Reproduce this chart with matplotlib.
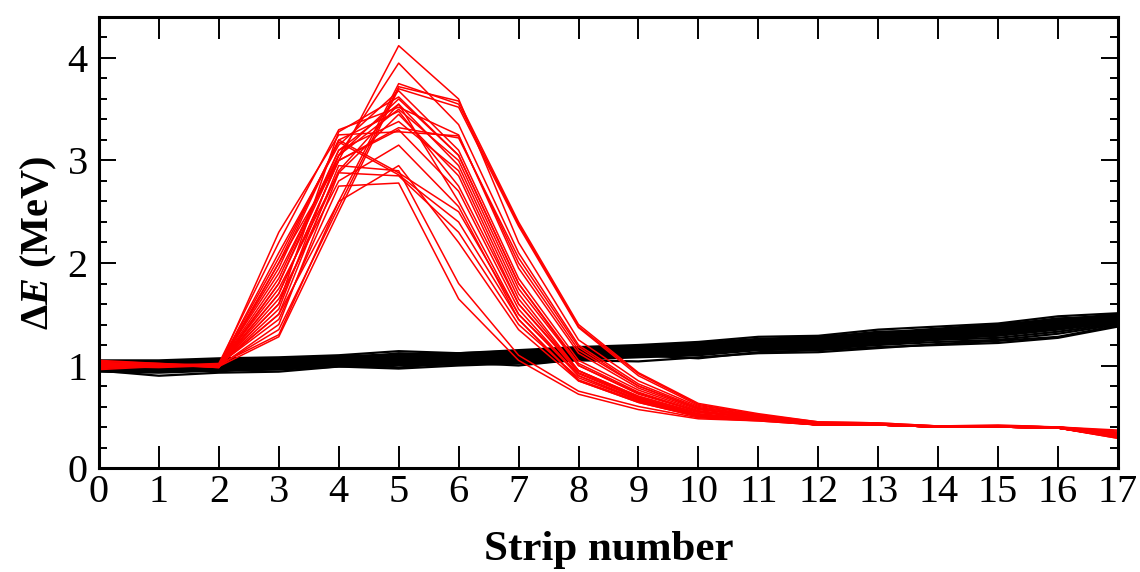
import numpy as np
import matplotlib
matplotlib.use("Agg")
import matplotlib.pyplot as plt
from matplotlib.ticker import MultipleLocator

plt.rcParams['font.family'] = ['Liberation Serif', 'DejaVu Serif']
plt.rcParams['mathtext.fontset'] = 'custom'
plt.rcParams['mathtext.rm'] = 'Liberation Serif:bold'
plt.rcParams['mathtext.it'] = 'Liberation Serif:italic:bold'
plt.rcParams['mathtext.bf'] = 'Liberation Serif:bold'

strips = list(range(18))

# energy loss per strip, light-particle tracks
black_tracks = [
    [1.05, 1.05, 1.07, 1.08, 1.10, 1.14, 1.12, 1.15, 1.18, 1.20, 1.23, 1.28, 1.29, 1.35, 1.38, 1.41, 1.48, 1.51],
    [1.03, 1.04, 1.06, 1.07, 1.09, 1.11, 1.12, 1.14, 1.17, 1.19, 1.22, 1.26, 1.28, 1.32, 1.36, 1.40, 1.45, 1.50],
    [1.02, 1.03, 1.05, 1.06, 1.08, 1.10, 1.11, 1.13, 1.16, 1.18, 1.21, 1.25, 1.27, 1.31, 1.35, 1.38, 1.44, 1.49],
    [1.01, 1.02, 1.04, 1.05, 1.08, 1.09, 1.10, 1.12, 1.15, 1.17, 1.20, 1.24, 1.26, 1.30, 1.34, 1.37, 1.43, 1.48],
    [1.00, 1.01, 1.03, 1.04, 1.07, 1.08, 1.09, 1.11, 1.14, 1.16, 1.19, 1.23, 1.25, 1.29, 1.33, 1.36, 1.42, 1.47],
    [0.99, 1.00, 1.02, 1.04, 1.06, 1.08, 1.09, 1.10, 1.13, 1.15, 1.18, 1.22, 1.24, 1.28, 1.32, 1.35, 1.41, 1.46],
    [0.99, 0.99, 1.01, 1.03, 1.05, 1.07, 1.08, 1.10, 1.13, 1.15, 1.17, 1.22, 1.23, 1.27, 1.31, 1.34, 1.40, 1.46],
    [0.98, 0.99, 1.00, 1.02, 1.05, 1.06, 1.07, 1.09, 1.12, 1.14, 1.16, 1.21, 1.22, 1.26, 1.30, 1.33, 1.39, 1.45],
    [0.97, 0.98, 1.00, 1.01, 1.04, 1.05, 1.06, 1.08, 1.11, 1.13, 1.15, 1.20, 1.21, 1.25, 1.29, 1.32, 1.38, 1.44],
    [0.97, 0.97, 0.99, 1.00, 1.03, 1.04, 1.05, 1.07, 1.10, 1.12, 1.14, 1.19, 1.20, 1.24, 1.28, 1.31, 1.37, 1.43],
    [0.96, 0.96, 0.98, 0.99, 1.02, 1.03, 1.04, 1.06, 1.09, 1.11, 1.13, 1.18, 1.19, 1.23, 1.27, 1.30, 1.36, 1.42],
    [0.95, 0.95, 0.97, 0.98, 1.01, 1.02, 1.03, 1.05, 1.08, 1.10, 1.12, 1.17, 1.18, 1.22, 1.26, 1.29, 1.35, 1.42],
    [0.95, 0.94, 0.96, 0.97, 1.00, 1.01, 1.02, 1.04, 1.07, 1.09, 1.11, 1.16, 1.17, 1.21, 1.25, 1.27, 1.33, 1.41],
    [0.94, 0.93, 0.95, 0.96, 0.99, 1.00, 1.01, 1.03, 1.06, 1.08, 1.10, 1.15, 1.16, 1.20, 1.23, 1.25, 1.31, 1.40],
    [0.95, 0.90, 0.93, 0.94, 0.99, 0.97, 1.00, 1.02, 1.05, 1.04, 1.08, 1.12, 1.13, 1.17, 1.21, 1.24, 1.28, 1.39],
    [1.00, 0.97, 0.94, 1.00, 1.03, 0.98, 1.03, 1.00, 1.06, 1.10, 1.07, 1.13, 1.15, 1.18, 1.20, 1.22, 1.27, 1.38],
    [1.02, 1.00, 1.04, 1.05, 1.06, 1.12, 1.10, 1.13, 1.15, 1.18, 1.21, 1.24, 1.27, 1.33, 1.34, 1.39, 1.46, 1.48],
]

# energy loss per strip, stopping heavy-ion tracks
red_tracks = [
    [1.02, 1.00, 1.00, 1.35, 2.55, 3.72, 3.58, 2.40, 1.40, 0.93, 0.63, 0.53, 0.45, 0.44, 0.41, 0.42, 0.40, 0.36],
    [1.00, 0.99, 1.01, 1.30, 2.60, 3.75, 3.55, 2.38, 1.38, 0.92, 0.62, 0.52, 0.45, 0.44, 0.41, 0.41, 0.40, 0.37],
    [0.98, 1.00, 0.99, 1.28, 2.50, 3.70, 3.52, 2.36, 1.37, 0.90, 0.61, 0.52, 0.44, 0.43, 0.41, 0.41, 0.40, 0.35],
    [1.05, 1.02, 1.00, 1.70, 3.00, 4.12, 3.60, 2.20, 1.25, 0.85, 0.60, 0.51, 0.44, 0.43, 0.41, 0.41, 0.40, 0.34],
    [0.97, 1.01, 0.98, 1.80, 3.05, 3.95, 3.35, 2.10, 1.20, 0.82, 0.59, 0.51, 0.44, 0.43, 0.40, 0.41, 0.40, 0.33],
    [1.00, 1.00, 1.02, 2.20, 3.30, 3.52, 3.25, 1.95, 1.12, 0.78, 0.57, 0.50, 0.43, 0.43, 0.40, 0.41, 0.39, 0.33],
    [1.03, 1.01, 0.99, 2.30, 3.25, 3.28, 3.24, 2.00, 1.15, 0.80, 0.58, 0.50, 0.43, 0.43, 0.40, 0.41, 0.40, 0.34],
    [0.99, 0.98, 1.00, 2.10, 3.15, 3.68, 3.10, 1.85, 1.05, 0.76, 0.56, 0.49, 0.43, 0.42, 0.40, 0.40, 0.39, 0.32],
    [1.01, 1.00, 1.01, 1.90, 3.05, 3.60, 3.05, 1.80, 1.00, 0.73, 0.55, 0.49, 0.43, 0.42, 0.40, 0.40, 0.39, 0.32],
    [0.96, 0.99, 1.00, 1.60, 2.90, 3.55, 2.95, 1.70, 0.95, 0.70, 0.54, 0.49, 0.43, 0.42, 0.40, 0.40, 0.39, 0.31],
    [1.02, 1.01, 0.98, 2.00, 3.20, 2.88, 2.50, 1.50, 0.92, 0.68, 0.52, 0.48, 0.42, 0.42, 0.40, 0.40, 0.39, 0.31],
    [1.00, 0.99, 1.00, 1.75, 2.88, 2.85, 2.30, 1.40, 0.88, 0.66, 0.51, 0.48, 0.42, 0.42, 0.40, 0.40, 0.39, 0.30],
    [0.98, 1.00, 1.01, 1.50, 2.60, 2.95, 2.20, 1.35, 0.85, 0.64, 0.50, 0.47, 0.42, 0.42, 0.40, 0.40, 0.39, 0.30],
    [1.04, 1.02, 0.99, 1.40, 2.88, 3.45, 2.85, 1.60, 0.95, 0.68, 0.52, 0.48, 0.42, 0.42, 0.40, 0.40, 0.39, 0.31],
    [0.99, 1.00, 1.00, 1.55, 3.05, 3.50, 3.00, 1.75, 1.00, 0.72, 0.55, 0.49, 0.43, 0.42, 0.40, 0.40, 0.39, 0.32],
    [1.01, 0.99, 1.00, 1.85, 3.10, 3.38, 2.90, 1.65, 0.95, 0.70, 0.53, 0.48, 0.42, 0.42, 0.40, 0.40, 0.39, 0.31],
    [0.97, 1.00, 0.99, 2.00, 3.00, 3.30, 2.70, 1.55, 0.90, 0.67, 0.51, 0.48, 0.42, 0.42, 0.40, 0.40, 0.39, 0.30],
    [1.00, 1.01, 1.00, 1.65, 2.80, 3.15, 2.55, 1.45, 0.86, 0.65, 0.50, 0.47, 0.42, 0.42, 0.40, 0.40, 0.39, 0.30],
    [1.02, 1.00, 1.00, 2.05, 3.18, 2.86, 2.40, 1.45, 0.85, 0.64, 0.50, 0.47, 0.42, 0.42, 0.40, 0.40, 0.39, 0.30],
    [0.98, 0.99, 1.01, 1.45, 2.75, 2.78, 1.65, 1.05, 0.72, 0.57, 0.48, 0.46, 0.42, 0.42, 0.40, 0.40, 0.39, 0.29],
    [1.00, 1.00, 0.99, 1.70, 3.00, 3.32, 3.22, 2.05, 1.18, 0.80, 0.58, 0.50, 0.43, 0.43, 0.40, 0.41, 0.40, 0.33],
    [1.03, 1.00, 1.00, 1.95, 3.20, 3.48, 2.75, 1.60, 0.93, 0.69, 0.52, 0.48, 0.42, 0.42, 0.40, 0.40, 0.39, 0.31],
    [0.99, 1.01, 1.00, 1.80, 3.10, 3.55, 2.60, 1.50, 0.90, 0.66, 0.51, 0.48, 0.42, 0.42, 0.40, 0.40, 0.39, 0.30],
    [1.01, 0.99, 1.00, 1.60, 3.28, 3.62, 3.05, 1.80, 1.02, 0.74, 0.55, 0.49, 0.43, 0.42, 0.40, 0.40, 0.39, 0.32],
    [1.00, 1.00, 1.00, 1.50, 2.95, 2.90, 1.80, 1.10, 0.75, 0.60, 0.49, 0.46, 0.42, 0.42, 0.40, 0.40, 0.39, 0.29],
]

fig = plt.figure(figsize=(11.4, 5.72), dpi=100)
ax = fig.add_axes([0.0868, 0.1818, 0.8939, 0.7885])

for tr in black_tracks:
    ax.plot(strips, tr, color='black', lw=1.6)
for tr in red_tracks:
    ax.plot(strips, tr, color='red', lw=1.1)

ax.set_xlim(0, 17)
ax.set_ylim(0, 4.4)
ax.xaxis.set_major_locator(MultipleLocator(1))
ax.yaxis.set_major_locator(MultipleLocator(1))
ax.yaxis.set_minor_locator(MultipleLocator(0.2))

ax.tick_params(axis='both', which='both', direction='in', top=True, right=True,
               width=1.4, labelsize=29)
ax.tick_params(axis='x', which='major', length=16, pad=4)
ax.tick_params(axis='y', which='major', length=12.5, pad=8)
ax.tick_params(axis='y', which='minor', length=6)
for sp in ax.spines.values():
    sp.set_linewidth(2.2)

ax.set_xlabel('Strip number', fontsize=31, fontweight='bold', labelpad=15)
ax.set_ylabel(r'$\Delta E$ (MeV)', fontsize=29, fontweight='bold', labelpad=6)

plt.savefig('out.png', dpi=100)
